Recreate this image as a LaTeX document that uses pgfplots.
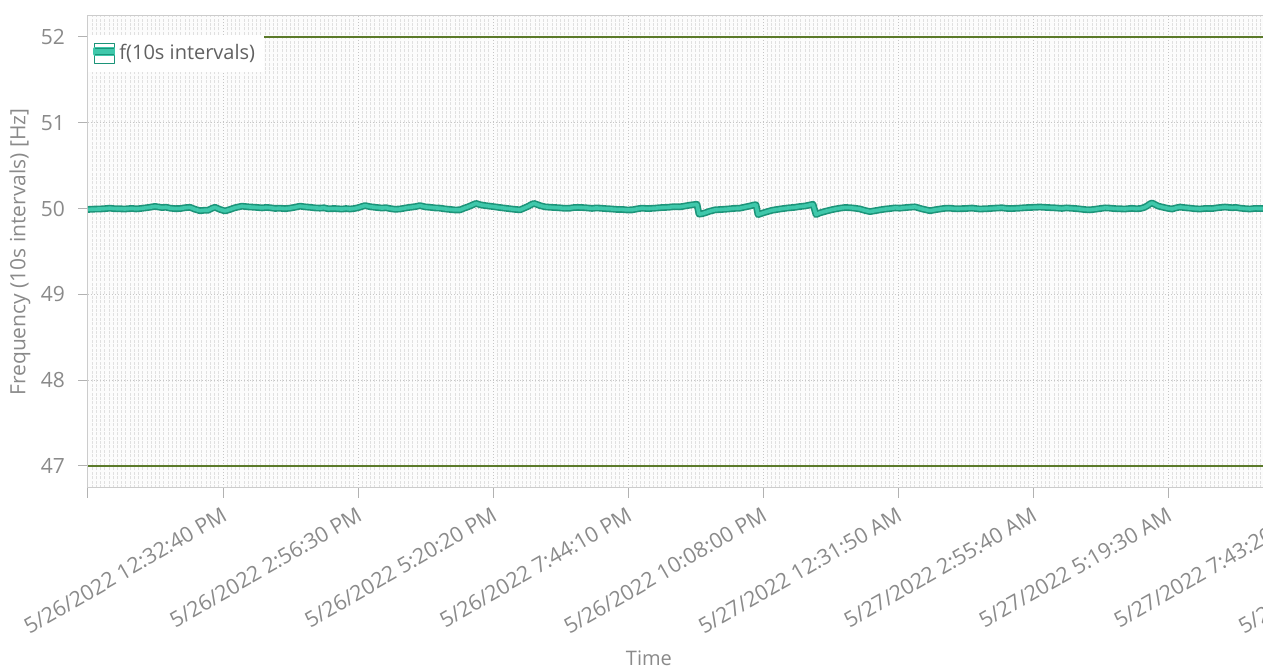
\documentclass[border=0pt]{standalone}
\usepackage{pgfplots}
\pgfplotsset{compat=1.18}
\usepackage{pgfplotstable}
\usepackage{fontspec}
\setmainfont{Open Sans}
\definecolor{tealdark}{HTML}{1C9479}
\definecolor{teallight}{HTML}{3FC8AB}
\definecolor{olive}{HTML}{5B7A2A}
\definecolor{txt}{HTML}{8A8A8A}

\pgfplotstableread{
x y
88 49.990
95 49.994
100 49.995
105 49.999
110 50.005
114 49.999
118 49.998
125 49.995
132 50.002
136 49.996
140 50.000
148 50.012
155 50.025
162 50.012
166 50.016
170 50.005
175 49.999
180 50.000
185 50.010
190 50.015
195 49.992
200 49.975
204 49.980
208 49.980
212 50.003
215 50.015
220 49.990
225 49.972
230 49.990
235 50.010
242 50.028
248 50.020
255 50.015
262 50.008
266 50.013
270 50.010
275 50.002
280 50.004
285 49.999
290 50.005
295 50.015
300 50.028
305 50.020
310 50.015
315 50.008
320 50.005
324 50.009
328 49.998
335 50.000
342 49.994
346 50.000
350 49.995
354 50.000
358 50.010
365 50.035
370 50.022
375 50.015
382 50.006
386 50.010
390 50.000
395 49.992
400 49.995
405 50.006
410 50.015
415 50.022
420 50.035
425 50.020
430 50.015
435 50.008
440 50.005
445 49.996
450 49.990
455 49.984
460 49.985
464 50.004
468 50.020
472 50.040
476 50.060
480 50.045
485 50.035
490 50.028
495 50.020
500 50.012
504 50.006
508 50.000
514 49.992
520 49.985
524 50.005
528 50.025
531 50.045
534 50.060
540 50.035
545 50.020
552 50.014
558 50.010
564 50.004
570 50.005
574 50.012
578 50.014
585 50.010
592 50.002
596 50.007
600 50.005
606 49.999
612 49.995
617 49.990
622 49.990
627 49.984
632 49.985
637 49.996
642 50.005
648 50.000
655 50.005
662 50.012
668 50.015
674 50.022
680 50.020
685 50.030
690 50.040
694 50.046
697 50.050
699 49.935
702 49.940
705 49.950
710 49.970
715 49.985
722 49.990
728 49.995
734 50.002
740 50.005
745 50.018
750 50.030
753 50.040
756 50.045
758 49.930
762 49.945
766 49.960
772 49.980
780 49.995
787 50.006
795 50.015
800 50.024
805 50.030
809 50.040
813 50.050
816 49.930
820 49.950
826 49.970
833 49.990
840 50.005
845 50.012
850 50.010
855 50.004
860 49.995
865 49.978
870 49.965
875 49.975
880 49.985
885 49.994
890 50.000
895 50.008
900 50.005
908 50.014
915 50.020
922 49.996
930 49.975
935 49.986
940 49.995
945 50.003
950 50.005
954 49.999
958 49.998
965 50.000
972 50.006
976 50.000
980 49.995
988 49.999
995 50.005
1002 50.009
1006 50.003
1010 50.000
1018 50.004
1025 50.010
1032 50.014
1040 50.018
1048 50.012
1055 50.008
1062 50.002
1066 50.008
1070 50.005
1075 50.001
1080 49.995
1085 49.988
1090 49.985
1095 49.992
1100 50.000
1105 50.008
1110 50.005
1114 50.000
1118 49.998
1125 49.995
1132 50.003
1136 49.998
1140 50.000
1144 50.012
1147 50.030
1150 50.055
1152 50.065
1155 50.048
1158 50.030
1162 50.018
1165 50.010
1169 50.000
1172 49.995
1176 50.008
1180 50.018
1185 50.010
1190 50.005
1195 49.998
1200 49.995
1206 50.002
1212 50.000
1218 50.010
1225 50.018
1232 50.010
1236 50.013
1240 50.005
1245 49.999
1250 49.995
1255 50.002
1263 50.000
}\freq

\begin{document}
\begin{tikzpicture}
\begin{axis}[
  x=0.5pt, y=42.9pt,
  xmin=88, xmax=1470, ymin=46.744, ymax=52.256,
  axis background/.style={fill=gray!2},
  axis line style={gray!40, line width=0.5pt},
  tick pos=left,
  tick align=outside,
  major tick length=4.8pt,
  minor tick length=0pt,
  tick style={gray!60, line width=0.5pt},
  xtick={88,223,358,493,628,763,898,1033,1168,1303,1438},
  xticklabels={{},
    5/26/2022 12:32:40 PM, 5/26/2022 2:56:30 PM, 5/26/2022 5:20:20 PM,
    5/26/2022 7:44:10 PM, 5/26/2022 10:08:00 PM, 5/27/2022 12:31:50 AM,
    5/27/2022 2:55:40 AM, 5/27/2022 5:19:30 AM, 5/27/2022 7:43:20 AM,
    5/27/2022 10:07:10 AM},
  minor x tick num=31,
  xminorgrids, xmajorgrids, ymajorgrids,
  minor grid style={gray!24, line width=0.5pt, dash pattern=on 1.5pt off 0.7pt},
  major grid style={gray!45, line width=0.5pt, dash pattern=on 0.6pt off 0.9pt},
  ytick={47,48,49,50,51,52},
  /pgf/number format/assume math mode=true,
  xticklabel style={font=\fontsize{10.7}{12}\selectfont, text=txt, rotate=30, anchor=north east, inner sep=0pt, xshift=-3pt, yshift=-3pt},
  yticklabel style={font=\fontsize{10.5}{12}\selectfont, text=txt, anchor=east, inner sep=0pt, xshift=-6.5pt},
  xlabel={Time},
  ylabel={Frequency (10s intervals) [Hz]},
  xlabel style={font=\fontsize{10}{12}\selectfont, text=txt, at={(axis description cs:0.4059,-0.3596)}, anchor=center},
  ylabel style={font=\fontsize{10.5}{12}\selectfont, text=txt, at={(axis description cs:-0.0492,0.4989)}, anchor=center, rotate=0},
  legend style={at={(axis description cs:0,0.9577)}, anchor=north west, draw=none, fill=white,
    font=\fontsize{10}{12}\selectfont, text=black!62, inner xsep=2.5pt, inner ysep=2.5pt,
    cells={anchor=west}},
  legend image code/.code={
    \draw[tealdark, line width=0.7pt, fill=white] (0pt,-5pt) rectangle (10pt,5pt);
    \fill[teallight] (0.4pt,-0.2pt) rectangle (9.6pt,2.4pt);
    \draw[tealdark, line width=0.4pt] (0.4pt,-0.2pt) -- (9.6pt,-0.2pt) (0.4pt,2.4pt) -- (9.6pt,2.4pt);
  },
]
\addplot[olive, line width=1.1pt, forget plot] coordinates {(88,52) (1470,52)};
\addplot[olive, line width=1.1pt, forget plot] coordinates {(88,47) (1470,47)};
\addplot[tealdark, line width=3.4pt, line join=round, forget plot] table[x=x,y=y] {\freq};
\addplot[teallight, line width=1.8pt, line join=round] table[x=x,y=y] {\freq};
\addlegendentry{f(10s intervals)}
\coordinate (bbtl) at (axis cs:0,52.431);
\coordinate (bbbr) at (axis cs:1263,44.634);
\end{axis}
\pgfresetboundingbox
\useasboundingbox (bbtl) rectangle (bbbr);
\end{tikzpicture}
\end{document}
